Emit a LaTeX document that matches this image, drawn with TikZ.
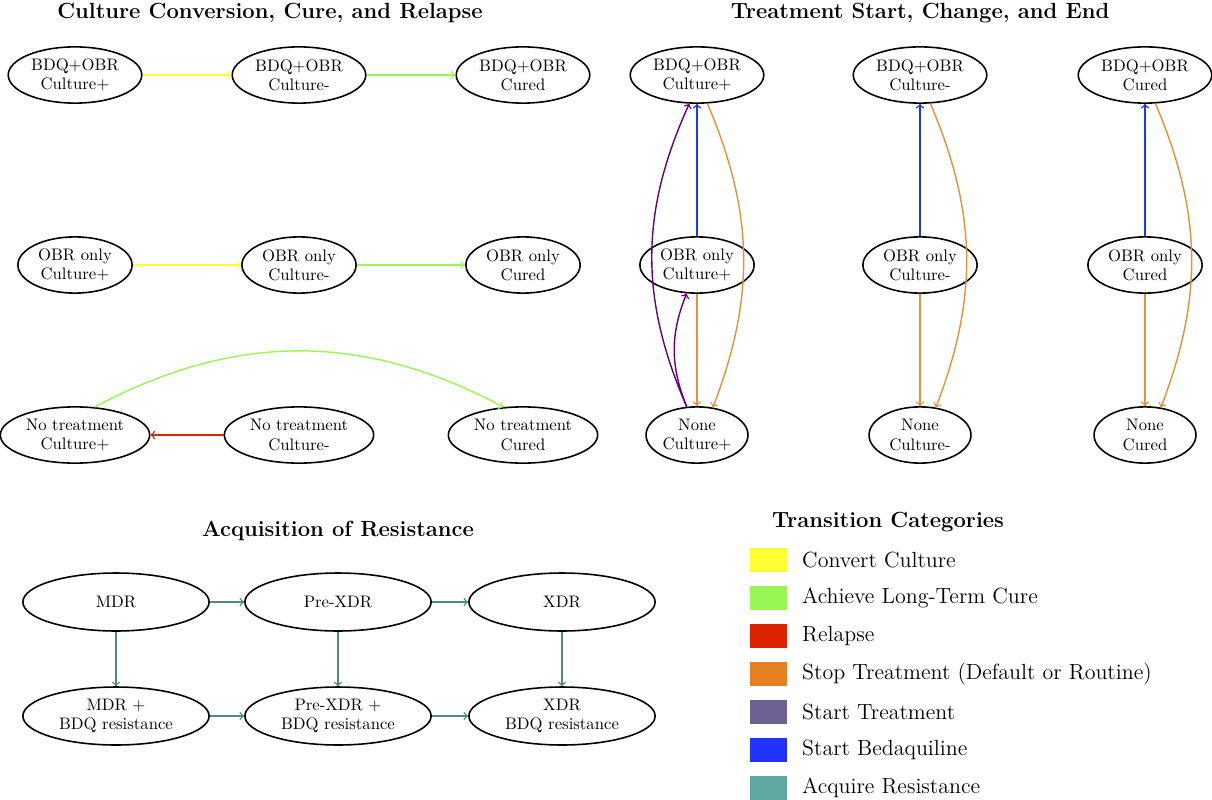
\documentclass[tikz,border=0pt]{standalone}
\usepackage{tikz}
\usetikzlibrary{shapes.geometric}
\definecolor{cY}{HTML}{FFFF33}
\definecolor{cG}{HTML}{99F755}
\definecolor{cR}{HTML}{DD2200}
\definecolor{cO}{HTML}{E67E22}
\definecolor{cOa}{HTML}{E6903A}
\definecolor{cP}{HTML}{6E6090}
\definecolor{cPa}{HTML}{660077}
\definecolor{cB}{HTML}{2233FF}
\definecolor{cT}{HTML}{5FA8A0}
\definecolor{cTa}{HTML}{4E8A86}
\begin{document}
\begin{tikzpicture}[x=0.02cm,y=-0.02cm,
  st/.style={ellipse,draw,line width=0.9pt,align=center,inner sep=0pt,font=\fontsize{9.5}{11}\selectfont,minimum height=32pt},
  ttl/.style={font=\fontsize{12.5}{14}\selectfont\bfseries},
  ar/.style={->,line width=0.8pt},
  lg/.style={font=\fontsize{12.5}{14}\selectfont,anchor=west}]
\useasboundingbox (0,0) rectangle (1212,800);
% titles
\node[ttl] (t1) at (270,13) {Culture Conversion, Cure, and Relapse};
\node[ttl] (t2) at (920,13) {Treatment Start, Change, and End};
\node[ttl] (t3) at (338,531) {Acquisition of Resistance};
\node[ttl] (t4) at (888,522) {Transition Categories};
% culture panel
\node[st,minimum width=76pt] (a1) at (75,75) {BDQ+OBR\\Culture+};
\node[st,minimum width=76pt] (a2) at (299,75) {BDQ+OBR\\Culture-};
\node[st,minimum width=76pt] (a3) at (523,75) {BDQ+OBR\\Cured};
\node[st,minimum width=65pt] (b1) at (75,265) {OBR only\\Culture+};
\node[st,minimum width=65pt] (b2) at (299,265) {OBR only\\Culture-};
\node[st,minimum width=65pt] (b3) at (523,265) {OBR only\\Cured};
\node[st,minimum width=85pt] (c1) at (75,435) {No treatment\\Culture+};
\node[st,minimum width=85pt] (c2) at (299,435) {No treatment\\Culture-};
\node[st,minimum width=85pt] (c3) at (523,435) {No treatment\\Cured};
\draw[ar,cY] (a1) -- (a2);
\draw[ar,cG] (a2) -- (a3);
\draw[ar,cY] (b1) -- (b2);
\draw[ar,cG] (b2) -- (b3);
\draw[ar,cR] (c2) -- (c1);
\draw[ar,cG] (c1.55) to[bend left=28] (c3.125);
% treatment panel
\foreach \n/\x/\l in {1/697/Culture+,2/920/Culture-,3/1145/Cured}{
  \node[st,minimum width=76pt] (p\n) at (\x,75) {BDQ+OBR\\\l};
  \node[st,minimum width=65pt] (q\n) at (\x,265) {OBR only\\\l};
  \node[st,minimum width=58pt] (r\n) at (\x,435) {None\\\l};
  \draw[ar,cB] (q\n) -- (p\n);
  \draw[ar,cOa] (q\n) -- (r\n);
  \draw[ar,cOa] (p\n.-70) to[bend left=22] (r\n.60);
}
\draw[ar,cPa] (r1.110) to[bend left=24] (p1.-105);
\draw[ar,cPa] (r1.110) to[bend left=22] (q1.-110);
% resistance
\node[st,minimum width=106pt,minimum height=33pt] (m1) at (116,602) {MDR};
\node[st,minimum width=106pt,minimum height=33pt] (m2) at (338,602) {Pre-XDR};
\node[st,minimum width=106pt,minimum height=33pt] (m3) at (562,602) {XDR};
\node[st,minimum width=106pt,minimum height=33pt] (n1) at (116,716) {MDR +\\BDQ resistance};
\node[st,minimum width=106pt,minimum height=33pt] (n2) at (338,716) {Pre-XDR +\\BDQ resistance};
\node[st,minimum width=106pt,minimum height=33pt] (n3) at (562,716) {XDR\\BDQ resistance};
\draw[ar,cTa] (m1) -- (m2);
\draw[ar,cTa] (m2) -- (m3);
\draw[ar,cTa] (n1) -- (n2);
\draw[ar,cTa] (n2) -- (n3);
\draw[ar,cTa] (m1) -- (n1);
\draw[ar,cTa] (m2) -- (n2);
\draw[ar,cTa] (m3) -- (n3);
% legend
\foreach \i/\c/\t in {0/cY/Convert Culture,1/cG/Achieve Long-Term Cure,2/cR/Relapse,3/cO/Stop Treatment (Default or Routine),4/cP/Start Treatment,5/cB/Start Bedaquiline,6/cT/Acquire Resistance}{
  \fill[\c] (750,548+38*\i) rectangle (787,572+38*\i);
  \node[lg] (lg\i) at (796,560+38*\i) {\t};
}
\end{tikzpicture}
\end{document}
